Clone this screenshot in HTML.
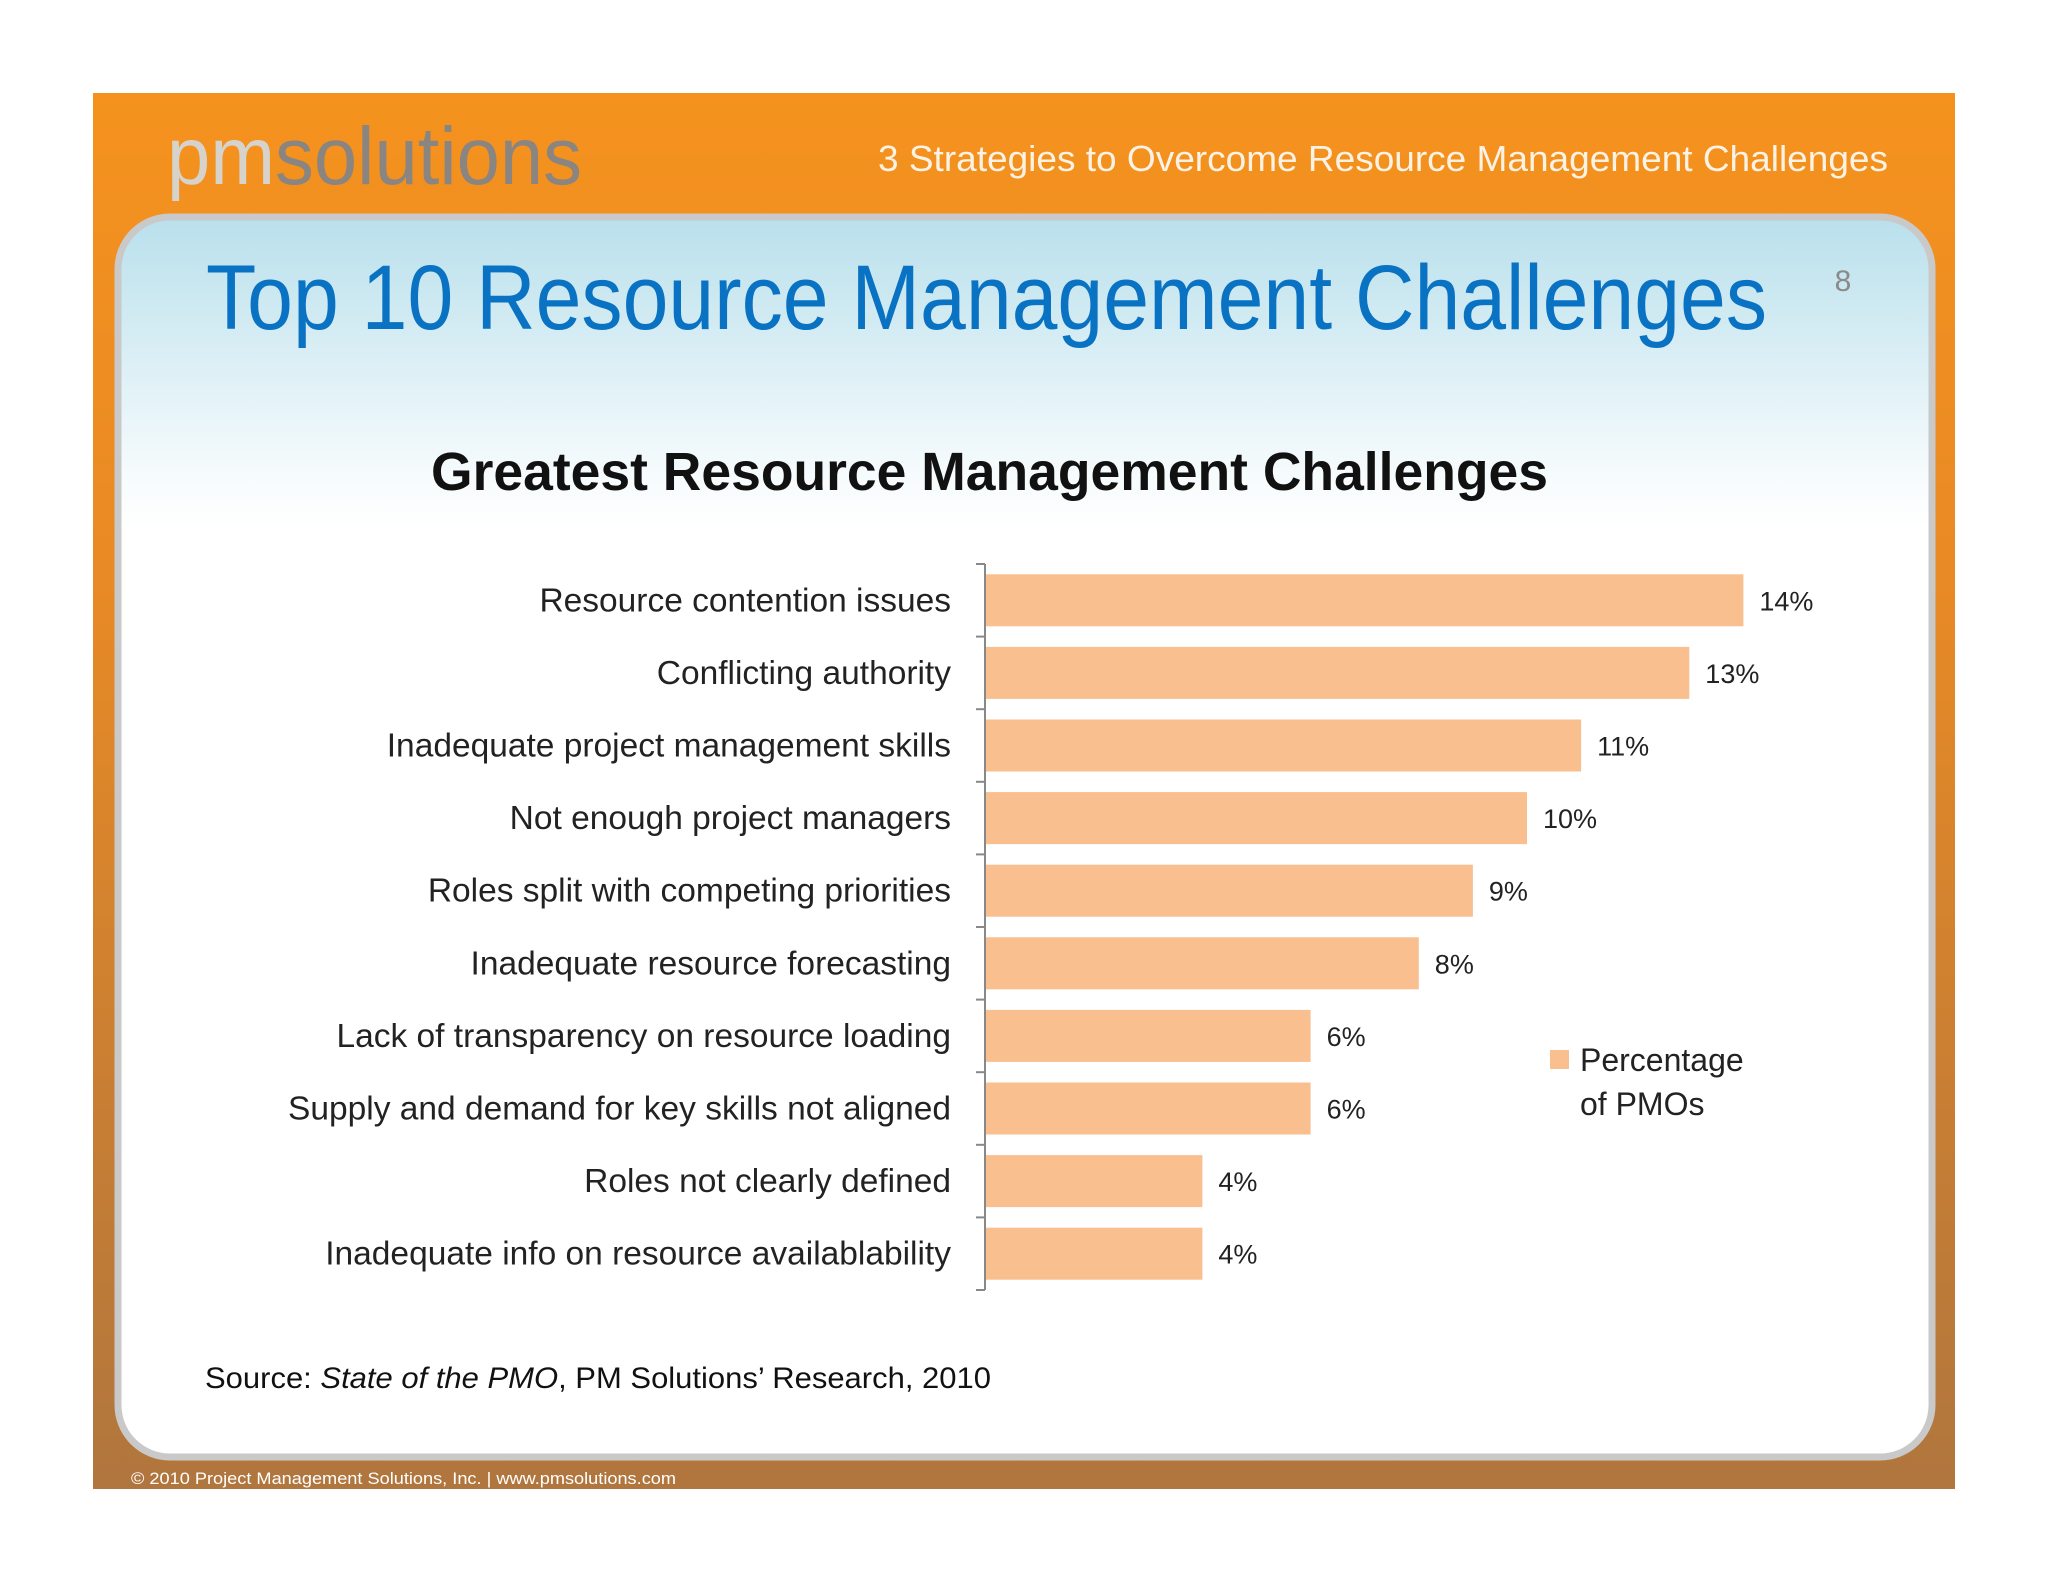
<!DOCTYPE html>
<html><head><meta charset="utf-8"><style>
html,body{margin:0;padding:0;background:#fff}
svg{display:block}
</style></head><body>
<svg width="2048" height="1582" viewBox="0 0 2048 1582" xmlns="http://www.w3.org/2000/svg">
<defs>
<linearGradient id="frameG" x1="0" y1="0" x2="0" y2="1">
<stop offset="0" stop-color="#f5921e"/><stop offset="0.35" stop-color="#e88a25"/><stop offset="1" stop-color="#b0763e"/>
</linearGradient>
<linearGradient id="panelG" x1="0" y1="0" x2="0" y2="1">
<stop offset="0" stop-color="#b9e0ec"/><stop offset="0.2" stop-color="#f4fafc"/><stop offset="0.25" stop-color="#ffffff"/><stop offset="1" stop-color="#ffffff"/>
</linearGradient>
</defs>
<rect x="93" y="93" width="1862" height="1396" fill="url(#frameG)"/>
<text x="167" y="184" font-family="Liberation Sans, sans-serif" font-size="82" fill="#d6d2cc" textLength="415" lengthAdjust="spacingAndGlyphs">pm<tspan fill="#8a8580">solutions</tspan></text>
<text x="1888" y="171" text-anchor="end" font-family="Liberation Sans, sans-serif" font-size="36" fill="#fdf2e4" textLength="1010" lengthAdjust="spacingAndGlyphs">3 Strategies to Overcome Resource Management Challenges</text>
<rect x="118" y="217" width="1814" height="1240" rx="52" fill="url(#panelG)" stroke="#c9c9c9" stroke-width="7"/>
<text x="206" y="329" font-family="Liberation Sans, sans-serif" font-size="92" fill="#0a72c2" textLength="1561" lengthAdjust="spacingAndGlyphs">Top 10 Resource Management Challenges</text>
<text x="1843" y="291" text-anchor="middle" font-family="Liberation Sans, sans-serif" font-size="30" fill="#8a8a8a">8</text>
<text x="431" y="490" font-family="Liberation Sans, sans-serif" font-weight="bold" font-size="54" fill="#111" textLength="1117" lengthAdjust="spacingAndGlyphs">Greatest Resource Management Challenges</text>
<g id="chart"></g>
<rect x="1550" y="1050" width="19" height="19" fill="#f9bf8f"/>
<text x="1580" y="1071" font-family="Liberation Sans, sans-serif" font-size="32" fill="#222">Percentage</text>
<text x="1580" y="1115" font-family="Liberation Sans, sans-serif" font-size="32" fill="#222">of PMOs</text>
<text x="205" y="1388" font-family="Liberation Sans, sans-serif" font-size="30" fill="#111" textLength="786" lengthAdjust="spacingAndGlyphs">Source: <tspan font-style="italic">State of the PMO</tspan>, PM Solutions’ Research, 2010</text>
<text x="131" y="1484" font-family="Liberation Sans, sans-serif" font-size="17" fill="#fff" textLength="545" lengthAdjust="spacingAndGlyphs">© 2010 Project Management Solutions, Inc. | www.pmsolutions.com</text>
</svg>
<script>
const categories=["Resource contention issues","Conflicting authority","Inadequate project management skills","Not enough project managers","Roles split with competing priorities","Inadequate resource forecasting","Lack of transparency on resource loading","Supply and demand for key skills not aligned","Roles not clearly defined","Inadequate info on resource availablability"];
const values=[14,13,11,10,9,8,6,6,4,4];
const valueLabels=["14%","13%","11%","10%","9%","8%","6%","6%","4%","4%"];
(function(){
const NS="http://www.w3.org/2000/svg";
const g=document.getElementById('chart');
const x0=986,unit=54.1,top=564,step=72.6,barH=52;
const xs=v=>x0+v*unit;
const yc=i=>top+step*i+step/2;
function mk(t,a){const e=document.createElementNS(NS,t);for(const k in a)e.setAttribute(k,a[k]);g.appendChild(e);return e;}
const ax=mk('line',{x1:x0-1,y1:top,x2:x0-1,y2:top+step*categories.length,stroke:'#888','stroke-width':2});


for(let i=0;i<=categories.length;i++){
const t=mk('line',{x1:x0-10,y1:top+step*i,x2:x0-1,y2:top+step*i,stroke:'#888','stroke-width':2});


}
categories.forEach((c,i)=>{
const b=mk('rect',{x:x0,y:yc(i)-barH/2,width:xs(values[i])-x0,height:barH,fill:'#f9bf8f'});


const l=mk('text',{x:951,y:yc(i)+11,'text-anchor':'end','font-family':'Liberation Sans, sans-serif','font-size':33.5,fill:'#222'});
l.textContent=c;


const v=mk('text',{x:xs(values[i])+16,y:yc(i)+10,'font-family':'Liberation Sans, sans-serif','font-size':27,fill:'#222'});
v.textContent=valueLabels[i];


});
})();
</script>
</body></html>
